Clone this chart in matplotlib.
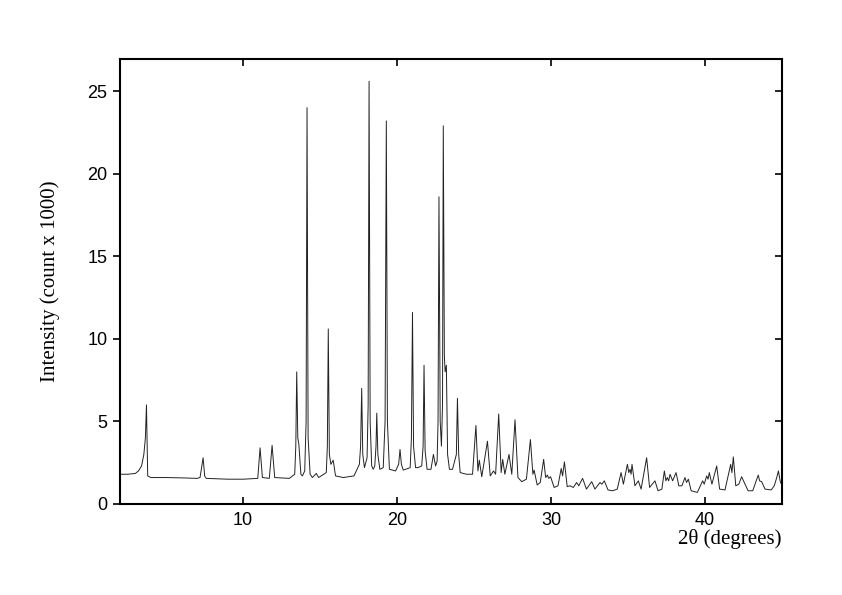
import matplotlib
matplotlib.use("Agg")
import matplotlib.pyplot as plt

# diffractogram trace (2theta in degrees, counts x 1000)
two_theta = [
    2.0, 2.5, 3.0, 3.2, 3.4, 3.55, 3.65, 3.72, 3.8, 4.0, 5.0, 6.0, 7.0,
    7.2, 7.3, 7.4, 7.5, 7.6, 9.0, 10.0, 10.95, 11.1, 11.25, 11.7, 11.88, 12.05,
    13.0, 13.35, 13.42, 13.48, 13.55, 13.62, 13.75, 13.85, 14.0, 14.09, 14.15, 14.22,
    14.35, 14.5, 14.75, 14.9, 15.4, 15.47, 15.53, 15.6, 15.7, 15.85, 16.0, 16.5,
    17.2, 17.55, 17.63, 17.7, 17.77, 17.88, 18.05, 18.12, 18.18, 18.25, 18.35, 18.45,
    18.55, 18.63, 18.68, 18.75, 18.88, 19.1, 19.22, 19.3, 19.37, 19.5, 19.9, 20.1,
    20.19, 20.28, 20.4, 20.85, 20.93, 21.0, 21.07, 21.2, 21.35, 21.6, 21.69, 21.75,
    21.82, 21.95, 22.2, 22.36, 22.5, 22.6, 22.66, 22.72, 22.8, 22.88, 22.95, 23.0,
    23.07, 23.12, 23.2, 23.28, 23.4, 23.6, 23.85, 23.92, 24.0, 24.1, 24.5, 24.9,
    25.12, 25.25, 25.34, 25.5, 25.87, 26.05, 26.26, 26.4, 26.6, 26.76, 26.86, 27.0,
    27.27, 27.45, 27.66, 27.85, 28.1, 28.4, 28.66, 28.82, 28.9, 29.1, 29.3, 29.52,
    29.65, 29.76, 29.85, 29.97, 30.2, 30.45, 30.66, 30.75, 30.87, 31.05, 31.23, 31.45,
    31.66, 31.8, 32.05, 32.3, 32.64, 32.85, 33.18, 33.3, 33.46, 33.7, 34.0, 34.3,
    34.55, 34.7, 34.96, 35.05, 35.13, 35.2, 35.26, 35.45, 35.67, 35.85, 36.21, 36.4,
    36.75, 36.95, 37.2, 37.36, 37.46, 37.55, 37.64, 37.73, 37.9, 38.12, 38.3, 38.5,
    38.7, 38.8, 38.92, 39.1, 39.5, 39.85, 39.95, 40.11, 40.2, 40.28, 40.45, 40.76,
    40.95, 41.3, 41.67, 41.75, 41.84, 42.0, 42.2, 42.38, 42.5, 42.8, 43.1, 43.46,
    43.55, 43.68, 43.9, 44.3, 44.5, 44.66, 44.77, 44.9, 45.0,
]
intensity = [
    1.8, 1.8, 1.85, 2.0, 2.3, 3.0, 4.0, 6.0, 1.7, 1.6, 1.6, 1.58, 1.55,
    1.6, 2.2, 2.8, 1.7, 1.55, 1.5, 1.5, 1.55, 3.4, 1.6, 1.55, 3.55, 1.6,
    1.55, 1.8, 3.5, 8.0, 4.0, 3.6, 1.8, 1.7, 2.0, 5.0, 24.0, 4.0,
    1.8, 1.6, 1.85, 1.6, 1.9, 3.5, 10.6, 3.0, 2.4, 2.65, 1.7, 1.6,
    1.7, 2.4, 3.5, 7.0, 3.0, 2.2, 2.8, 6.0, 25.6, 5.0, 2.3, 2.1,
    2.3, 3.5, 5.5, 3.0, 2.1, 2.2, 5.0, 23.2, 5.0, 2.1, 2.0, 2.4,
    3.3, 2.4, 2.05, 2.2, 4.0, 11.6, 3.5, 2.2, 2.2, 2.3, 3.5, 8.4,
    3.2, 2.1, 2.1, 3.0, 2.3, 2.6, 5.0, 18.6, 5.0, 3.5, 6.0, 22.9,
    9.0, 8.0, 8.4, 3.0, 2.1, 2.1, 3.0, 6.4, 3.0, 1.9, 1.8, 1.8,
    4.75, 2.0, 2.65, 1.65, 3.8, 1.7, 2.0, 1.8, 5.45, 1.9, 2.7, 1.8,
    3.0, 1.8, 5.1, 1.6, 1.35, 1.5, 3.9, 1.8, 2.05, 1.15, 1.3, 2.7,
    1.6, 1.75, 1.55, 1.65, 1.0, 1.1, 2.15, 1.7, 2.55, 1.05, 1.1, 1.0,
    1.3, 1.1, 1.55, 0.9, 1.35, 0.9, 1.3, 1.2, 1.4, 0.85, 0.8, 0.9,
    1.9, 1.2, 2.4, 1.9, 2.1, 1.8, 2.4, 1.1, 1.4, 0.9, 2.8, 1.0,
    1.4, 0.8, 0.9, 2.0, 1.4, 1.6, 1.4, 1.8, 1.4, 1.9, 1.1, 1.1,
    1.6, 1.3, 1.5, 0.8, 0.7, 1.4, 1.2, 1.7, 1.5, 1.9, 1.2, 2.3,
    0.9, 0.85, 2.4, 1.9, 2.85, 1.1, 1.2, 1.65, 1.4, 0.8, 0.8, 1.75,
    1.4, 1.35, 0.9, 0.85, 1.1, 1.6, 2.0, 1.3, 1.2,
]

x_ticks = [10, 20, 30, 40]
y_ticks = [0, 5, 10, 15, 20, 25]

fig = plt.figure(figsize=(8.42, 5.95), dpi=100)
fig.set_facecolor('white')
ax = fig.add_axes([0.1425, 0.153, 0.7862, 0.7479])

ax.plot(two_theta, intensity, color='#222222', lw=0.7)

ax.set_xlim(2, 45)
ax.set_ylim(0, 26.95)
ax.set_xticks(x_ticks)
ax.set_yticks(y_ticks)

for s in ax.spines.values():
    s.set_linewidth(1.5)

ax.tick_params(axis='x', direction='in', top=True, length=5, width=1.2, pad=6)
ax.tick_params(axis='y', direction='out', length=5, width=1.2, pad=4)
ax.tick_params(axis='y', which='major', right=True)
for t in ax.yaxis.get_ticklines()[1::2]:
    t.set_marker(0)  # right-side ticks point inward
for lab in ax.get_xticklabels() + ax.get_yticklabels():
    lab.set_family('Liberation Sans')
    lab.set_fontsize(13)

ax.set_xlabel('2θ (degrees)', family='Liberation Serif', fontsize=15, loc='right', labelpad=0)
ax.set_ylabel('Intensity (count x 1000)', family='Liberation Serif', fontsize=15, labelpad=20)

fig.savefig('out.png', dpi=100, facecolor='white')
